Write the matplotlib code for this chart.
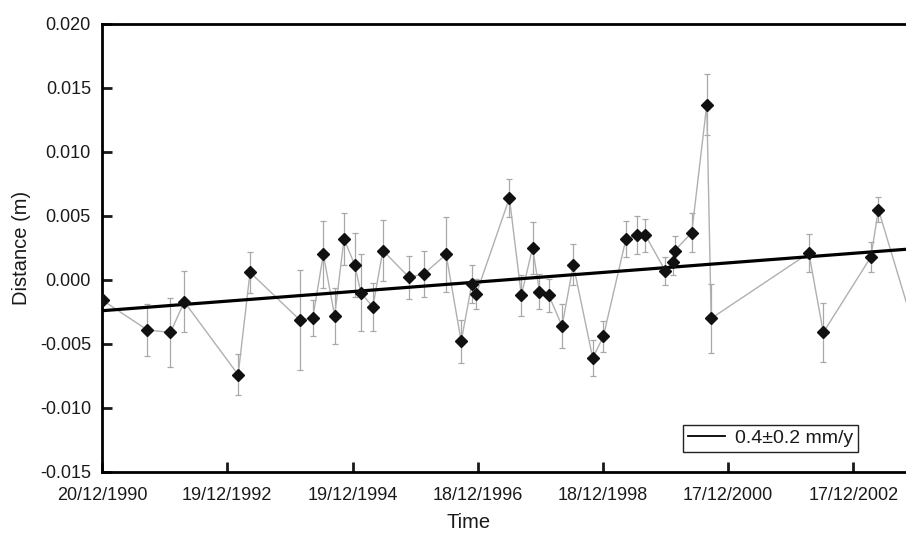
import matplotlib
matplotlib.use('Agg')
import matplotlib.pyplot as plt
from matplotlib.lines import Line2D

plt.rcParams['font.family'] = ['Liberation Sans', 'DejaVu Sans']
plt.rcParams['axes.unicode_minus'] = False

# observation epochs (decimal years), distance (m) and its error (m)
t_obs = [1990.98, 1991.69, 1992.06, 1992.28, 1993.14, 1993.33, 1994.12, 1994.33,
         1994.50, 1994.68, 1994.83, 1995.00, 1995.10, 1995.29, 1995.45, 1995.87,
         1996.11, 1996.46, 1996.70, 1996.87, 1996.94, 1997.47, 1997.66, 1997.84,
         1997.95, 1998.10, 1998.31, 1998.49, 1998.80, 1998.97, 1999.33, 1999.50,
         1999.64, 1999.96, 2000.08, 2000.11, 2000.38, 2000.62, 2000.69, 2002.25,
         2002.48, 2003.24, 2003.36, 2003.95]
dist = [-0.0016, -0.0039, -0.0041, -0.0017, -0.0074, 0.0006, -0.0031, -0.0030,
        0.0020, -0.0028, 0.0032, 0.0012, -0.0010, -0.0021, 0.0023, 0.0002,
        0.0005, 0.0020, -0.0048, -0.0003, -0.0011, 0.0064, -0.0012, 0.0025,
        -0.0009, -0.0012, -0.0036, 0.0012, -0.0061, -0.0044, 0.0032, 0.0035,
        0.0035, 0.0007, 0.0014, 0.0023, 0.0037, 0.0137, -0.0030, 0.0021,
        -0.0041, 0.0018, 0.0055, -0.0041]
dist_err = [0.0, 0.0020, 0.0027, 0.0024, 0.0016, 0.0016, 0.0039, 0.0014,
            0.0026, 0.0022, 0.0020, 0.0025, 0.0030, 0.0019, 0.0024, 0.0017,
            0.0018, 0.0029, 0.0017, 0.0015, 0.0012, 0.0015, 0.0016, 0.0020,
            0.0014, 0.0013, 0.0017, 0.0016, 0.0014, 0.0012, 0.0014, 0.0015,
            0.0013, 0.0011, 0.0010, 0.0011, 0.0015, 0.0024, 0.0027, 0.0015,
            0.0023, 0.0012, 0.0010, 0.0]

# linear trend
trend_t = [1990.967, 2003.80]
trend_d = [-0.0024, 0.0024]
trend_label = '0.4\u00b10.2 mm/y'

x_ticks = [1990.967, 1992.964, 1994.967, 1996.964, 1998.964, 2000.962, 2002.962]
x_ticklabels = ['20/12/1990', '19/12/1992', '19/12/1994', '18/12/1996',
                '18/12/1998', '17/12/2000', '17/12/2002']
y_ticks = [-0.015, -0.010, -0.005, 0.000, 0.005, 0.010, 0.015, 0.020]

txt = '#1a1a1a'

fig = plt.figure(figsize=(9.06, 5.33), dpi=100)
ax = fig.add_axes([102 / 906, 1 - 472 / 533, 1 - 102 / 906, (472 - 24) / 533])

ax.errorbar(t_obs, dist, yerr=dist_err, fmt='-', color='#b0b0b0', lw=1.0,
            ecolor='#a8a8a8', elinewidth=0.9, capsize=2.5, capthick=0.9, zorder=2)
ax.plot(trend_t, trend_d, color='black', lw=2.3, zorder=3)
ax.plot(t_obs, dist, 'D', color='#111111', markersize=6, zorder=4)

ax.set_xlim(1990.967, 2003.80)
ax.set_ylim(-0.015, 0.020)
ax.set_xticks(x_ticks)
ax.set_xticklabels(x_ticklabels)
ax.set_yticks(y_ticks)
ax.set_yticklabels(['%.3f' % v for v in y_ticks])

for s in ['left', 'top', 'bottom']:
    ax.spines[s].set_linewidth(2.0)
ax.spines['right'].set_visible(False)
ax.tick_params(direction='in', length=7, width=2.0, labelsize=13, colors=txt)
ax.tick_params(axis='x', pad=11)
ax.tick_params(axis='y', pad=8)

ax.set_xlabel('Time', fontsize=14.5, color=txt)
ax.set_ylabel('Distance (m)', fontsize=14.5, color=txt)
ax.xaxis.set_label_coords(0.456, -0.092)
ax.yaxis.set_label_coords(-0.088, 0.5)

handle = Line2D([], [], color='black', lw=1.3)
leg = ax.legend([handle], [trend_label], loc='lower left',
                bbox_to_anchor=(683 / 906, 1 - 452 / 533), bbox_transform=fig.transFigure,
                borderaxespad=0, fancybox=False, framealpha=1, edgecolor='#222222',
                fontsize=14, handlelength=1.9, handletextpad=0.5,
                borderpad=0.25, labelcolor=txt)
leg.get_frame().set_linewidth(1.0)

fig.savefig('out.png', dpi=100)
